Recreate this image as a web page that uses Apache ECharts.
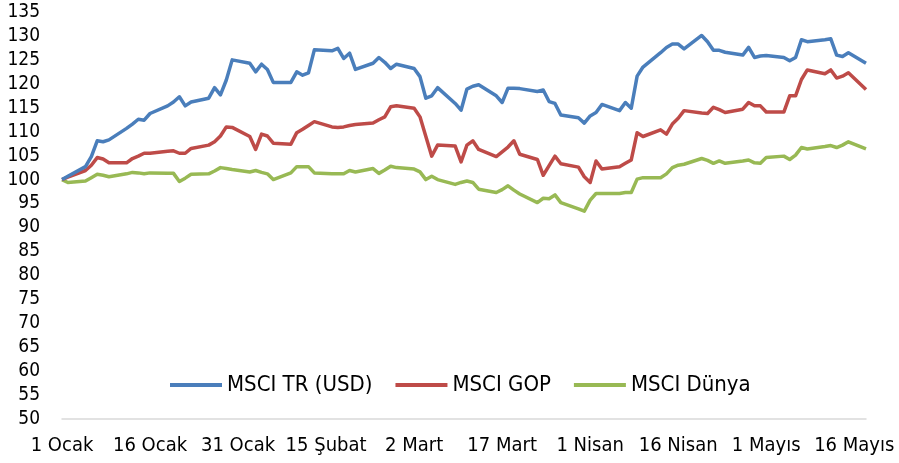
<!DOCTYPE html>
<html>
<head>
<meta charset="utf-8">
<script src="https://cdn.jsdelivr.net/npm/echarts@6/dist/echarts.min.js"></script>
<style>
  html, body { margin: 0; padding: 0; background: #fff; }
  #chart { width: 899px; height: 463px; }
</style>
</head>
<body>
<div id="chart"></div>
<script>
// takvim: 1 Ocak 2015 - 18 Mayıs 2015, değerler sadece iş günleri için
var months = ['Ocak', 'Şubat', 'Mart', 'Nisan', 'Mayıs'];
var dayCount = 138;
var startDate = Date.UTC(2015, 0, 1);

var tickLabels = ['1 Ocak', '16 Ocak', '31 Ocak', '15 Şubat', '2 Mart',
    '17 Mart', '1 Nisan', '16 Nisan', '1 Mayıs', '16 Mayıs'];

var seriesNames = ['MSCI TR (USD)', 'MSCI GOP', 'MSCI Dünya'];

var msciTR = [
    100, 100.7,
    102.7, 104.8, 108.1, 107.9, 108.3,
    110.7, 111.6, 112.6, 112.4, 113.8,
    115.4, 116.2, 117.3, 115.4, 116.2,
    117.0, 119.2, 117.7, 120.8, 125.0,
    124.3, 122.5, 124.1, 123.0, 120.3,
    120.3, 122.5, 121.8, 122.3, 127.1,
    126.9, 127.4, 125.3, 126.4, 123.0,
    124.3, 125.5, 124.5, 123.2, 124.1,
    123.2, 121.5, 117.0, 117.5, 119.2,
    115.9, 114.5, 118.9, 119.5, 119.8,
    117.5, 116.1, 119.1, 119.1, 119.0,
    118.4, 118.7, 116.3, 115.9, 113.5,
    112.9, 111.8, 113.3, 114.0, 115.7,
    114.4, 116.1, 114.9, 121.6, 123.5,
    126.5, 127.6, 128.3, 128.3, 127.3,
    130.1, 128.8, 127.0, 127.0, 126.6,
    126.0, 127.6, 125.5, 125.8, 125.9,
    125.5, 124.8, 125.5, 129.2, 128.8,
    129.2, 129.4, 126.0, 125.7, 126.5,
    124.3
];

var msciGOP = [
    100, 100.5,
    101.9, 103.0, 104.6, 104.3, 103.5,
    103.5, 104.4, 104.9, 105.5, 105.5,
    105.9, 106.0, 105.5, 105.5, 106.5,
    107.2, 107.9, 109.1, 111.0, 110.9,
    109.0, 106.3, 109.5, 109.1, 107.6,
    107.4, 109.8, 110.5, 111.3, 112.1,
    111.0, 110.9, 111.0, 111.3, 111.5,
    111.8, 112.5, 113.1, 115.2, 115.4,
    114.9, 113.1, 109.0, 104.9, 107.2,
    107.0, 103.7, 107.2, 108.1, 106.3,
    104.8, 105.8, 106.8, 108.1, 105.3,
    104.2, 100.9, 102.9, 104.9, 103.3,
    102.6, 100.6, 99.4, 103.9, 102.2,
    102.7, 103.4, 104.1, 109.8, 109.0,
    110.4, 109.5, 111.6, 112.8, 114.4,
    113.9, 113.8, 115.1, 114.6, 114.0,
    114.7, 116.1, 115.4, 115.4, 114.1,
    114.1, 117.5, 117.5, 120.9, 122.9,
    122.1, 122.9, 121.2, 121.6, 122.3,
    118.8
];

var msciDunya = [
    100, 99.4,
    99.7, 100.4, 101.1, 100.9, 100.6,
    101.2, 101.5, 101.4, 101.2, 101.4,
    101.3, 101.3, 99.6, 100.3, 101.1,
    101.2, 101.8, 102.5, 102.3, 102.1,
    101.6, 101.9, 101.5, 101.2, 100.0,
    101.4, 102.7, 102.7, 102.7, 101.4,
    101.2, 101.2, 101.2, 101.9, 101.6,
    102.3, 101.3, 102.0, 102.8, 102.5,
    102.2, 101.6, 100.0, 100.7, 100.0,
    99.0, 99.4, 99.7, 99.4, 98.0,
    97.3, 97.9, 98.7, 97.8, 97.0,
    95.2, 96.1, 96.0, 96.8, 95.2,
    93.9, 93.4, 95.7, 97.1, 97.1,
    97.1, 97.3, 97.3, 100.1, 100.4,
    100.4, 101.2, 102.5, 103.0, 103.2,
    104.4, 104.0, 103.4, 103.9, 103.4,
    103.9, 104.1, 103.5, 103.4, 104.6,
    104.9, 104.2, 105.1, 106.7, 106.4,
    106.9, 107.1, 106.7, 107.2, 107.9,
    106.4
];

var colors = ['#4A7EBB', '#BE4B48', '#98B954'];

// kategori ekseni: her takvim günü
var categories = [];
var tradingIdx = [];
for (var i = 0; i < dayCount; i++) {
    var d = new Date(startDate + i * 86400000);
    categories.push(d.getUTCDate() + ' ' + months[d.getUTCMonth()]);
    var wd = d.getUTCDay();
    if (wd !== 0 && wd !== 6) tradingIdx.push(i);
}

function toDaily(values) {
    var out = [];
    for (var i = 0; i < dayCount; i++) out.push(null);
    for (var k = 0; k < values.length && k < tradingIdx.length; k++) {
        out[tradingIdx[k]] = values[k];
    }
    return out;
}

var font = "'DejaVu Sans Condensed', 'DejaVu Sans', sans-serif";

var chart = echarts.init(document.getElementById('chart'));

var option = {
    animation: false,
    color: colors,
    grid: {
        left: 62,
        right: 33,
        top: 12,
        bottom: 44,
        containLabel: false,
        outerBoundsMode: 'none'
    },
    legend: {
        data: seriesNames,
        left: 170,
        top: 374,
        padding: 0,
        icon: 'rect',
        itemWidth: 52,
        itemHeight: 4,
        itemGap: 23,
        textStyle: {
            fontFamily: font,
            fontSize: 22,
            color: '#000'
        }
    },
    xAxis: {
        type: 'category',
        boundaryGap: false,
        data: categories,
        axisLine: { lineStyle: { color: '#d9d9d9', width: 1.5 } },
        axisTick: { show: false },
        splitLine: { show: false },
        axisLabel: {
            interval: 14,
            margin: 17,
            fontFamily: font,
            fontSize: 20,
            color: '#000',
            formatter: function (value) {
                return tickLabels.indexOf(value) >= 0 ? value : '';
            }
        }
    },
    yAxis: {
        type: 'value',
        min: 50,
        max: 135,
        interval: 5,
        axisLine: { show: false },
        axisTick: { show: false },
        splitLine: { show: false },
        axisLabel: {
            margin: 22,
            fontFamily: font,
            fontSize: 19,
            color: '#000'
        }
    },
    series: [
        { name: seriesNames[0], data: toDaily(msciTR) },
        { name: seriesNames[1], data: toDaily(msciGOP) },
        { name: seriesNames[2], data: toDaily(msciDunya) }
    ].map(function (s, i) {
        return {
            name: s.name,
            type: 'line',
            data: s.data,
            connectNulls: true,
            symbol: 'none',
            lineStyle: { width: 3.5, color: colors[i], join: 'round' },
            z: 3 - i
        };
    })
};

chart.setOption(option);
</script>
</body>
</html>
